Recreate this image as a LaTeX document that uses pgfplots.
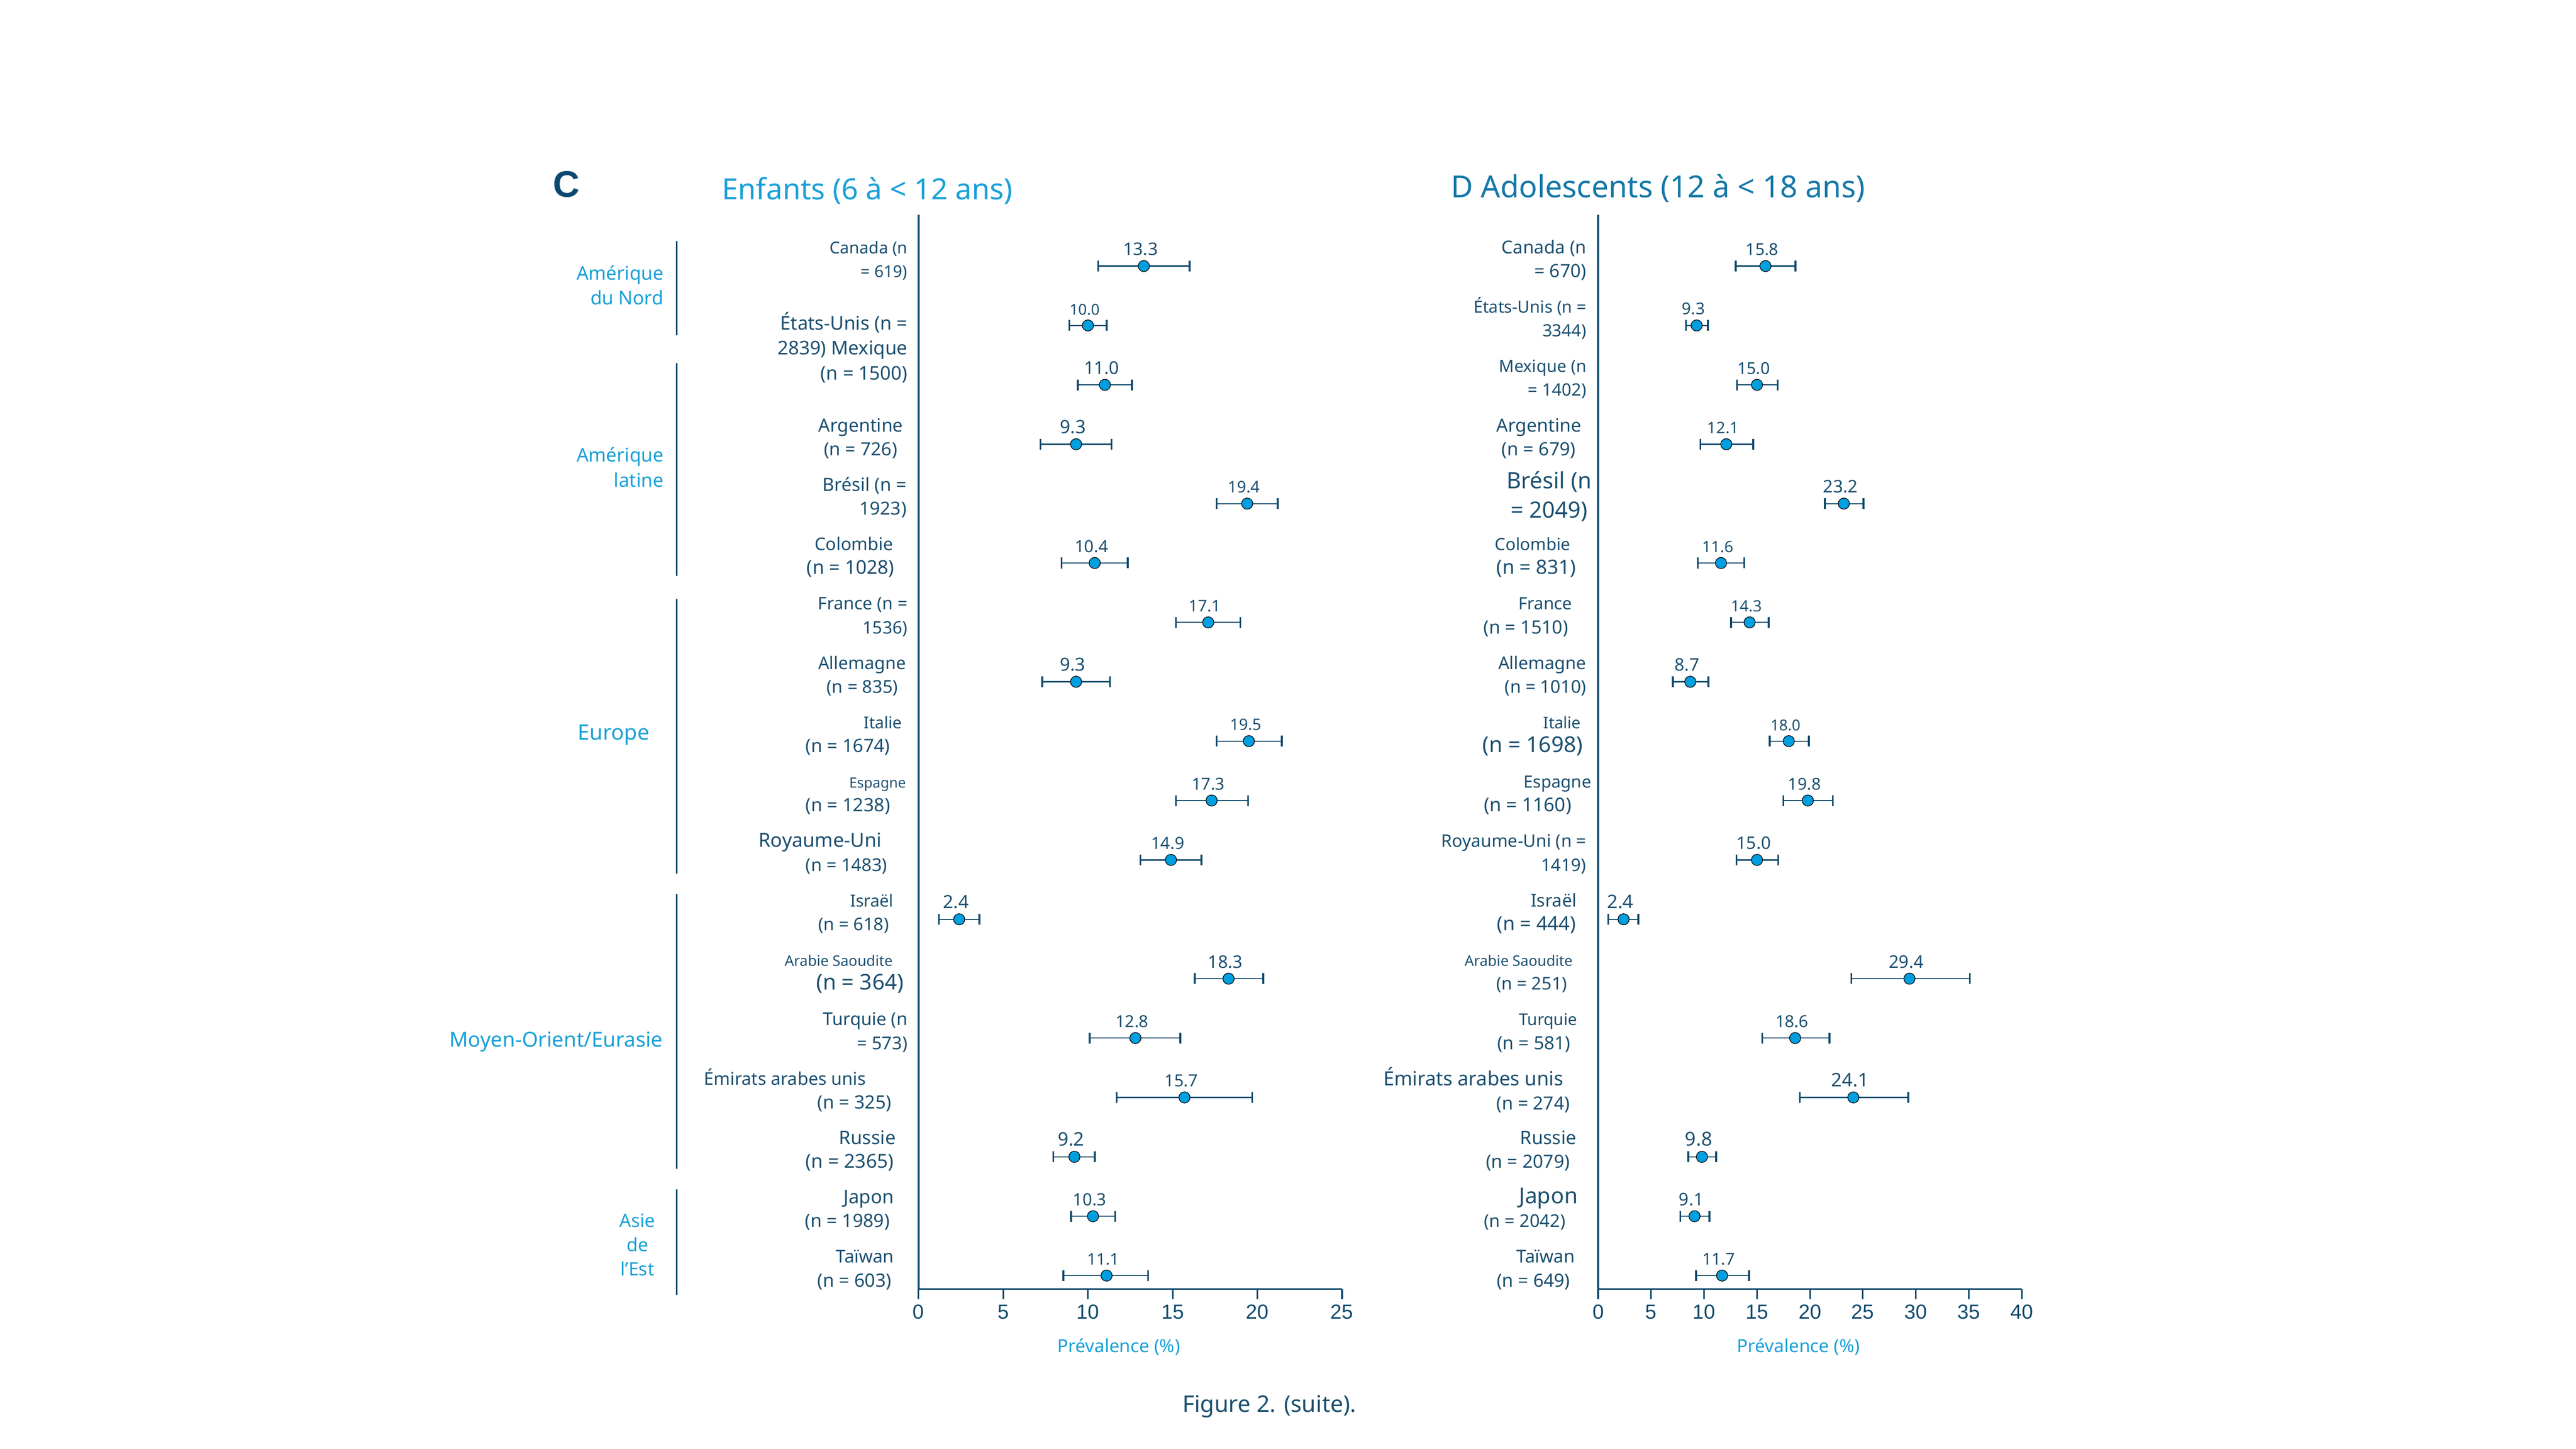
\documentclass[border=0pt]{standalone}
\usepackage{fontspec}
\setmainfont{Noto Sans}
\newfontfamily\arialfont{Liberation Sans}
\usepackage{pgfplots}
\usepackage{pgfplotstable}
\pgfplotsset{compat=1.18}

\definecolor{navytext}{HTML}{1B4F6F}
\definecolor{navyax}{HTML}{0F4A6C}
\definecolor{dotblue}{HTML}{009FDF}
\definecolor{cyantext}{HTML}{19A0D8}
\definecolor{dtitle}{HTML}{1478A8}
\definecolor{cdark}{HTML}{0B4870}

% one label line: size, right kern (pt), text
\newcommand{\Ln}[3]{\fontsize{#1}{14.5}\selectfont #3\hspace*{#2pt}}
\newcommand{\Lab}[3][0pt]{{\fontsize{10}{14.5}\selectfont\begin{tabular}{@{}r@{}}#2\\[#1]#3\end{tabular}}}

% y = row (Taiwan = 1 ... Canada = 18), x = prevalence, lo/hi = CI, fs = label size
\pgfplotstableread{
y    x     lo     hi     lab   fs
18   13.3  10.6   16.0   13.3  10.6
17   10.0  8.9    11.1   10.0  9.2
16   11.0  9.4    12.6   11.0  10.8
15   9.3   7.2    11.4   9.3   11.2
14   19.4  17.6   21.2   19.4  9.8
13   10.4  8.45   12.35  10.4  10.2
12   17.1  15.2   19.0   17.1  9.8
11   9.3   7.3    11.3   9.3   11.0
10   19.5  17.6   21.45  19.5  9.6
9    17.3  15.2   19.45  17.3  10.1
8    14.9  13.1   16.7   14.9  10.2
7    2.4   1.2    3.6    2.4   11.1
6    18.3  16.3   20.35  18.3  10.6
5    12.8  10.1   15.45  12.8  10.1
4    15.7  11.7   19.7   15.7  10.2
3    9.2   7.95   10.4   9.2   11.4
2    10.3  9.0    11.6   10.3  10.3
1    11.1  8.55   13.55  11.1  9.7
}\kids

\pgfplotstableread{
y    x     lo     hi     lab   fs
18   15.8  13.0   18.64  15.8  10.0
17   9.3   8.3    10.35  9.3   9.9
16   15.0  13.1   16.95  15.0  10.0
15   12.1  9.65   14.65  12.1  9.7
14   23.2  21.4   25.05  23.2  10.6
13   11.6  9.4    13.8   11.6  9.6
12   14.3  12.55  16.1   14.3  9.5
11   8.7   7.05   10.4   8.7   10.6
10   18.0  16.2   19.9   18.0  9.2
9    19.8  17.5   22.15  19.8  10.0
8    15.0  13.05  17.0   15.0  10.5
7    2.4   0.95   3.8    2.4   11.4
6    29.4  23.9   35.1   29.4  10.7
5    18.6  15.5   21.85  18.6  10.1
4    24.1  19.05  29.3   24.1  11.4
3    9.8   8.5    11.15  9.8   11.7
2    9.1   7.75   10.5   9.1   10.6
1    11.7  9.25   14.25  11.7  10.0
}\teens

\pgfplotsset{
  forest/.style={
    scale only axis, width=257.8pt, height=654.1pt,
    anchor=south west,
    xmin=0, ymin=0.773, ymax=18.866,
    axis x line*=bottom, axis y line*=left,
    axis line style={navyax, line width=1.1pt},
    tick align=outside, major tick length=6pt,
    xtick style={navyax, line width=1pt},
    ytick style={draw=none},
    /pgf/number format/assume math mode=true,
    xticklabel style={font=\fontsize{12.4}{12.4}\arialfont, text=navyax},
    yticklabel style={anchor=east, inner sep=0pt, yshift=3.3pt, text=navytext},
    xlabel={Prévalence (\%)},
    xlabel style={font=\fontsize{11}{11}\selectfont, text=cyantext, xshift=-7pt, yshift=-5pt},
    clip=false,
  },
  ci/.style={only marks, mark=none,
    point meta=explicit symbolic,
    visualization depends on={\thisrow{fs}\as\lfs},
    nodes near coords,
    nodes near coords style={font=\fontsize{\lfs}{\lfs}\selectfont, text=navytext,
      anchor=south, inner sep=0pt, yshift=6.2pt, xshift=-2pt},
    error bars/.cd, x dir=both, x explicit,
    error bar style={navyax, line width=0.7pt},
    error mark=|,
    error mark options={navyax, line width=1.1pt, mark size=3.3pt}},
  dots/.style={only marks, mark=*, mark size=3.4pt,
    mark options={draw=none, fill=dotblue}},
}

\begin{document}
\begin{tikzpicture}
\path[use as bounding box] (0,0) rectangle (1568pt,882pt);

% children
\begin{axis}[forest, at={(559.1pt,97.2pt)}, xmax=25, xtick={0,5,...,25},
  ytick={1,2,3,4,5,6,7,8,9,10,11,12,13,14,15,16.5,18},
  yticklabel style={xshift=-0.5pt},
  yticklabels={
    {\Lab{\Ln{10.8}{8.3}{Taïwan}}{\Ln{11.2}{9.8}{(n = 603)}}},
    {\Lab{\Ln{11.5}{8.3}{Japon}}{\Ln{11.2}{10.8}{(n = 1989)}}},
    {\Lab{\Ln{11.4}{7.2}{Russie}}{\Ln{11.7}{8.3}{(n = 2365)}}},
    {\Lab{\Ln{10.7}{25.3}{Émirats arabes unis}}{\Ln{11.2}{9.8}{(n = 325)}}},
    {\Lab{\Ln{10.8}{0}{Turquie (n}}{\Ln{10.8}{0}{= 573)}}},
    {\Lab{\Ln{8.85}{9.1}{Arabie Saoudite}}{\Ln{13.2}{2.4}{(n = 364)}}},
    {\Lab{\Ln{10.2}{8.5}{Israël}}{\Ln{10.7}{11.2}{(n = 618)}}},
    {\Lab{\Ln{11.85}{15.7}{Royaume-Uni}}{\Ln{10.8}{12.3}{(n = 1483)}}},
    {\Lab{\Ln{8.6}{1}{Espagne}}{\Ln{11.2}{10.5}{(n = 1238)}}},
    {\Lab{\Ln{10}{3.3}{Italie}}{\Ln{11.2}{10.6}{(n = 1674)}}},
    {\Lab{\Ln{10.65}{1}{Allemagne}}{\Ln{10.8}{5.7}{(n = 835)}}},
    {\Lab{\Ln{10.6}{0}{France (n =}}{\Ln{10.5}{0}{1536)}}},
    {\Lab{\Ln{10.7}{8.7}{Colombie}}{\Ln{11.6}{8}{(n = 1028)}}},
    {\Lab{\Ln{11.1}{0.6}{Brésil (n =}}{\Ln{11}{0.6}{1923)}}},
    {\Lab{\Ln{11.1}{2.7}{Argentine}}{\Ln{11.1}{6.2}{(n = 726)}}},
    {{\fontsize{11.5}{15.3}\selectfont\begin{tabular}{@{}r@{}}États-Unis (n =\\2839) Mexique\\(n = 1500)\end{tabular}}},
    {\Lab{\Ln{10}{0}{Canada (n}}{\Ln{10}{0}{= 619)}}},
  }]
\addplot[ci] table[x=x, y=y, meta=lab,
  x error plus expr=\thisrow{hi}-\thisrow{x},
  x error minus expr=\thisrow{x}-\thisrow{lo}] {\kids};
\addplot[dots] table[x=x, y=y] {\kids};
\end{axis}

% adolescents
\begin{axis}[forest, at={(972.8pt,97.2pt)}, xmax=40, xtick={0,5,...,40},
  ytick={1,...,18},
  yticklabel style={xshift=2.2pt},
  yticklabels={
    {\Lab{\Ln{10.9}{10.2}{Taïwan}}{\Ln{11.1}{13.1}{(n = 649)}}},
    {\Lab{\Ln{13.4}{8.4}{Japon}}{\Ln{10.8}{15.9}{(n = 2042)}}},
    {\Lab{\Ln{11.3}{9.3}{Russie}}{\Ln{11.1}{13.3}{(n = 2079)}}},
    {\Lab{\Ln{11.9}{17.1}{Émirats arabes unis}}{\Ln{11.1}{13.3}{(n = 274)}}},
    {\Lab{\Ln{9.9}{8.8}{Turquie}}{\Ln{11.1}{12.8}{(n = 581)}}},
    {\Lab{\Ln{8.85}{11.6}{Arabie Saoudite}}{\Ln{10.7}{14.9}{(n = 251)}}},
    {\Lab{\Ln{10.8}{9}{Israël}}{\Ln{11.9}{9.6}{(n = 444)}}},
    {\Lab{\Ln{10.6}{3.2}{Royaume-Uni (n =}}{\Ln{10.6}{3.2}{1419)}}},
    {\Lab{\Ln{10.3}{0.2}{Espagne}}{\Ln{11.6}{12.3}{(n = 1160)}}},
    {\Lab{\Ln{9.8}{6.5}{Italie}}{\Ln{13.3}{5.3}{(n = 1698)}}},
    {\Lab{\Ln{10.7}{3.2}{Allemagne}}{\Ln{10.8}{3.2}{(n = 1010)}}},
    {\Lab{\Ln{10.4}{11.9}{France}}{\Ln{11.2}{14.2}{(n = 1510)}}},
    {\Lab{\Ln{10.3}{12.8}{Colombie}}{\Ln{12}{9.6}{(n = 831)}}},
    {\Lab[3.5pt]{\Ln{13.7}{2.3}{Brésil (n}}{\Ln{13.7}{2.3}{= 2049)}}},
    {\Lab{\Ln{11.1}{6.3}{Argentine}}{\Ln{11.2}{9.6}{(n = 679)}}},
    {\Lab{\Ln{10.2}{3.2}{Mexique (n}}{\Ln{10.4}{3.2}{= 1402)}}},
    {\Lab{\Ln{10.2}{3.2}{États-Unis (n =}}{\Ln{10.3}{3.2}{3344)}}},
    {\Lab{\Ln{10.9}{3.2}{Canada (n}}{\Ln{11.1}{3.2}{= 670)}}},
  }]
\addplot[ci] table[x=x, y=y, meta=lab,
  x error plus expr=\thisrow{hi}-\thisrow{x},
  x error minus expr=\thisrow{x}-\thisrow{lo}] {\teens};
\addplot[dots] table[x=x, y=y] {\teens};
\end{axis}

% region brackets and names
\begin{scope}[navyax, line width=1pt]
\draw (412pt,735.2pt) -- (412pt,677.8pt);
\draw (412pt,660.8pt) -- (412pt,531.4pt);
\draw (412pt,517.3pt) -- (412pt,350.2pt);
\draw (412pt,337.6pt) -- (412pt,170.4pt);
\draw (412pt,157.9pt) -- (412pt,93.5pt);
\end{scope}
\begin{scope}[text=cyantext, inner sep=0pt]
\node[anchor=east, align=right, font=\fontsize{11.5}{15.2}\selectfont] at (404.1pt,708.3pt) {Amérique\\du Nord};
\node[anchor=east, align=right, font=\fontsize{11.5}{15.1}\selectfont] at (404.1pt,597.5pt) {Amérique\\latine};
\node[anchor=east, font=\fontsize{13}{13}\selectfont] at (395.5pt,434.7pt) {Europe};
\node[anchor=east, font=\fontsize{12.6}{12.6}\selectfont] at (403.6pt,247.6pt) {Moyen-Orient/Eurasie};
\node[align=center, font=\fontsize{11.2}{14.7}\selectfont] at (388pt,124.1pt) {Asie\\de\\l'Est};
\end{scope}

% titles and caption
\node[font=\fontsize{22.5}{22.5}\arialfont\bfseries, text=cdark] at (344.7pt,769.9pt) {C};
\node[anchor=base, font=\fontsize{17.8}{17.8}\selectfont, text=cyantext] at (527.9pt,760.6pt) {Enfants (6 à < 12 ans)};
\node[anchor=base, font=\fontsize{18.5}{18.5}\selectfont, text=dtitle] at (1009.2pt,761.8pt) {D Adolescents (12 à < 18 ans)};
\node[anchor=base, font=\fontsize{14}{14}\selectfont, text=navytext] at (772.7pt,22.2pt) {Figure 2. (suite).};
\end{tikzpicture}
\end{document}
